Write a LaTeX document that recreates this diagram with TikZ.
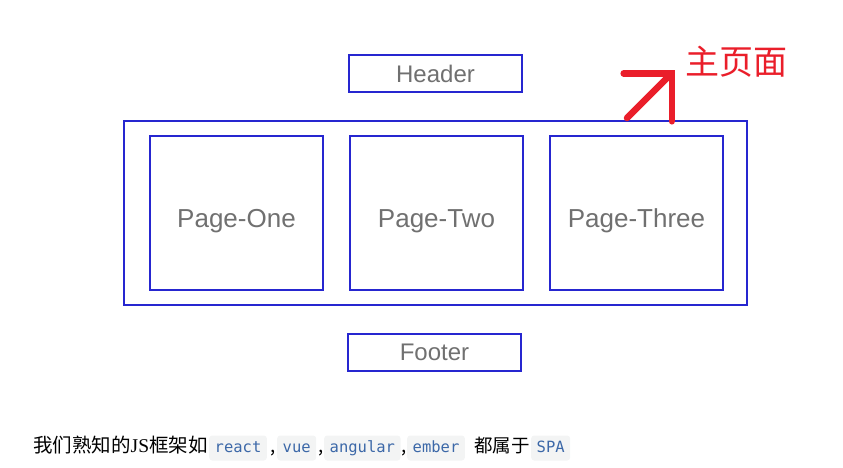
\documentclass[tikz,border=0pt]{standalone}
\usepackage{fontspec}
\setmainfont{Liberation Sans}
\setmonofont{DejaVu Sans Mono}
\newfontfamily\cjk{Noto Sans CJK SC}
\usetikzlibrary{positioning,arrows.meta}
\definecolor{frameblue}{RGB}{38,38,208}
\definecolor{labelgray}{RGB}{112,112,112}
\definecolor{markred}{RGB}{234,30,42}
\definecolor{chipbg}{RGB}{243,244,244}
\definecolor{chipfg}{RGB}{60,104,168}
\begin{document}
\begin{tikzpicture}[x=1pt,y=-1pt]
  \tikzstyle{box}=[draw=frameblue, line width=2.3pt, inner sep=0pt, text=labelgray]
  \tikzstyle{bar}=[box, minimum width=173pt, minimum height=37pt, font=\fontsize{24}{24}\selectfont]
  \tikzstyle{page}=[box, minimum width=173pt, minimum height=154pt, text height=28pt, text depth=0pt,
    font=\fontsize{26}{26}\selectfont]
  \tikzstyle{chip}=[fill=chipbg, rounded corners=3pt, text=chipfg, inner xsep=5.5pt, inner ysep=0pt,
    text height=12pt, text depth=4pt, minimum height=25pt, font=\ttfamily\fontsize{15.5}{15.5}\selectfont]
  \tikzstyle{plain}=[inner sep=0pt, font=\cjk\fontsize{18.5}{18.5}\selectfont, text=black]
  \useasboundingbox (0,0) rectangle (843,467);
  % main frame and pages
  \node[box, minimum width=623pt, minimum height=184pt] (frame) at (435.5,213) {};
  \node[page] (one) at (236.5,213) {Page-One};
  \node[page] (two) at (436.5,213) {Page-Two};
  \node[page] (three) at (636.5,213) {Page-Three};
  \node[bar] (header) at (435.5,73.5) {Header};
  \node[bar] (footer) at (434.5,352.5) {Footer};
  % marker
  \node[inner sep=0pt, text=markred, font=\cjk\fontsize{34}{34}\selectfont, anchor=west] (main) at (685,62) {主页面};
  \coordinate (tail) at (627,118);
  \coordinate (tip) at (675,70);
  \draw[markred, line width=6.5pt, line cap=round,
    -{Straight Barb[length=34pt, width=68pt, line cap=round]}] (tail) -- (tip);
  % caption line
  \node[plain, anchor=base west, font=\cjk\fontsize{19.5}{19.5}\selectfont] (t1) at (33,452)
    {我们熟知的{\fontspec{Liberation Serif}JS}框架如};
  \node[chip, anchor=base west] (c1) at (209,452) {react};
  \node[plain, anchor=base west] (k1) at (270,452) {,};
  \node[chip, anchor=base west] (c2) at (277,452) {vue};
  \node[plain, anchor=base west] (k2) at (318,452) {,};
  \node[chip, anchor=base west] (c3) at (324,452) {angular};
  \node[plain, anchor=base west] (k3) at (401,452) {,};
  \node[chip, anchor=base west] (c4) at (407,452) {ember};
  \node[plain, anchor=base west] (t2) at (474,452) {都属于};
  \node[chip, anchor=base west] (c5) at (531,452) {SPA};
\end{tikzpicture}
\end{document}
